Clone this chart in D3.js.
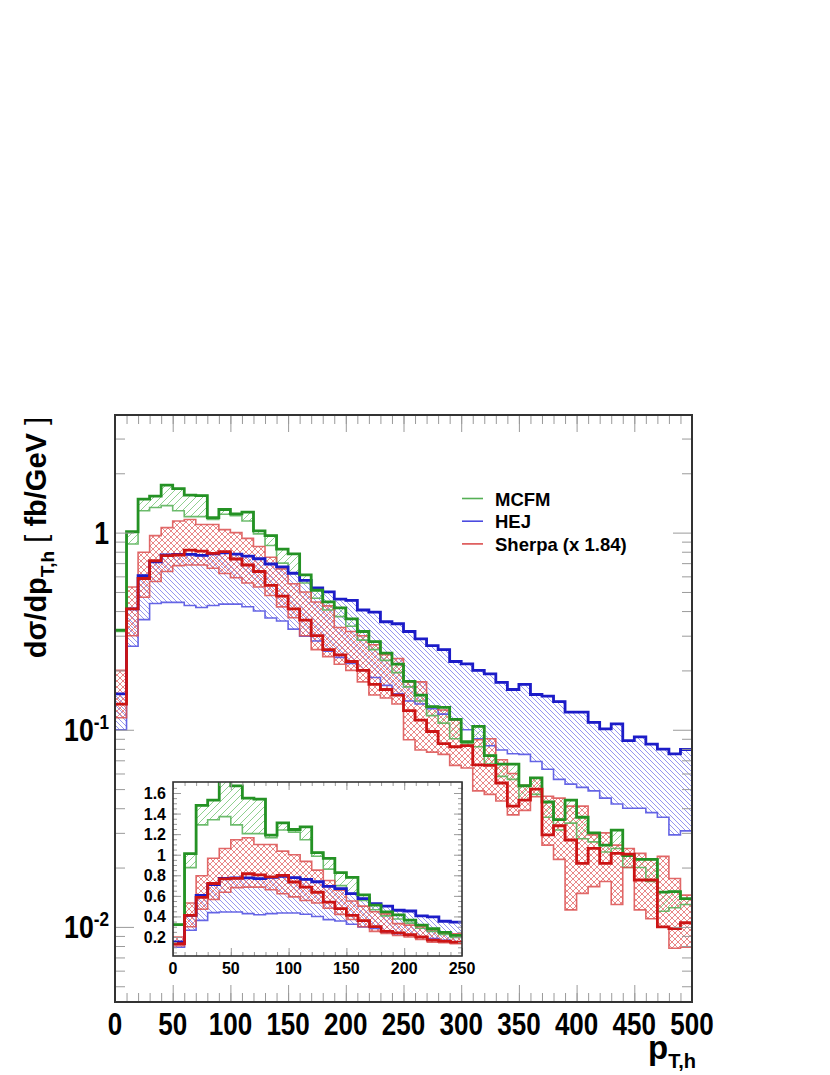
<!DOCTYPE html>
<html>
<head>
<meta charset="utf-8">
<script src="https://cdnjs.cloudflare.com/ajax/libs/d3/7.8.5/d3.min.js"></script>
<style>
  body { margin: 0; background: #fff; }
  svg { display: block; font-family: "Liberation Sans", Arial, Helvetica, sans-serif; font-weight: bold; }
  .tick line { stroke: #9a9a9a; stroke-width: 1; }
  .domain { display: none; }
</style>
</head>
<body>
<div class="svg-container"></div>
<script>
// pT,h bins, 10 GeV wide
const binWidth = 10;
const binEdges = d3.range(0, 500, binWidth);

// MCFM: thick line is the upper edge of the band
const mcfmUp = [0.32, 1.01, 1.48, 1.53, 1.74, 1.67, 1.55, 1.54, 1.19, 1.31, 1.245, 1.27, 1.02, 0.965, 0.825, 0.78, 0.61, 0.51, 0.445, 0.415, 0.365, 0.315, 0.28, 0.245, 0.215,
  0.176, 0.15, 0.131, 0.13, 0.113, 0.087, 0.104, 0.074, 0.067, 0.067, 0.052, 0.057, 0.043, 0.035, 0.044, 0.036, 0.030, 0.026, 0.031, 0.023, 0.022, 0.022, 0.015, 0.0151, 0.0139];
const mcfmLow = [0.315, 0.875, 1.29, 1.34, 1.37, 1.29, 1.205, 1.205, 1.165, 1.24, 1.22, 1.145, 0.985, 0.86, 0.70, 0.62, 0.555, 0.465, 0.405, 0.375, 0.335, 0.285, 0.255, 0.225, 0.195,
  0.165, 0.14, 0.118, 0.108, 0.09, 0.085, 0.082, 0.067, 0.058, 0.056, 0.044, 0.047, 0.036, 0.031, 0.0336, 0.028, 0.027, 0.024, 0.025, 0.020, 0.020, 0.017, 0.012, 0.0125, 0.013];

// HEJ
const hejUp = [0.152, 0.41, 0.605, 0.71, 0.77, 0.775, 0.775, 0.767, 0.78, 0.79, 0.777, 0.76, 0.737, 0.693, 0.67, 0.622, 0.573, 0.524, 0.5, 0.46, 0.453, 0.405, 0.395, 0.353, 0.345,
  0.315, 0.289, 0.267, 0.255, 0.222, 0.216, 0.2, 0.192, 0.174, 0.16, 0.17, 0.151, 0.148, 0.139, 0.123, 0.123, 0.109, 0.101, 0.107, 0.088, 0.092, 0.0846, 0.0798, 0.0755, 0.0794];
const hejLow = [0.1, 0.265, 0.362, 0.437, 0.443, 0.443, 0.427, 0.417, 0.427, 0.434, 0.434, 0.421, 0.40, 0.369, 0.356, 0.324, 0.298, 0.282, 0.25, 0.233, 0.217, 0.2, 0.184, 0.168, 0.152,
  0.14, 0.135, 0.128, 0.12, 0.112, 0.1, 0.09, 0.083, 0.079, 0.0755, 0.075, 0.069, 0.063, 0.056, 0.053, 0.051, 0.049, 0.045, 0.042, 0.040, 0.040, 0.038, 0.036, 0.0293, 0.0307];

// Sherpa (x 1.84): thick central line inside the band
const sherpa = [0.135, 0.41, 0.585, 0.72, 0.765, 0.77, 0.815, 0.805, 0.785, 0.80, 0.735, 0.685, 0.635, 0.54, 0.476, 0.41, 0.36, 0.30, 0.255, 0.24, 0.222, 0.20, 0.17, 0.16, 0.15,
  0.125, 0.112, 0.098, 0.085, 0.082, 0.083, 0.0664, 0.066, 0.0537, 0.041, 0.044, 0.05, 0.0293, 0.0326, 0.0276, 0.021, 0.025, 0.021, 0.0236, 0.0234, 0.0173, 0.0173, 0.0100, 0.0098, 0.0105];
const sherpaUp = [0.2, 0.53, 0.795, 0.965, 1.06, 1.145, 1.165, 1.10, 1.10, 1.035, 1.0, 0.935, 0.85, 0.75, 0.655, 0.55, 0.50, 0.445, 0.425, 0.33, 0.315, 0.30, 0.27, 0.24, 0.23,
  0.175, 0.175, 0.13, 0.126, 0.112, 0.087, 0.089, 0.09, 0.0704, 0.06, 0.0522, 0.057, 0.046, 0.045, 0.041, 0.041, 0.0293, 0.03, 0.026, 0.025, 0.0236, 0.022, 0.0228, 0.0176, 0.0145];
const sherpaLow = [0.115, 0.30, 0.47, 0.565, 0.635, 0.68, 0.685, 0.685, 0.66, 0.62, 0.59, 0.555, 0.53, 0.48, 0.42, 0.37, 0.30, 0.255, 0.235, 0.215, 0.2, 0.175, 0.15, 0.145, 0.135,
  0.089, 0.079, 0.077, 0.075, 0.066, 0.064, 0.049, 0.047, 0.0435, 0.037, 0.039, 0.0457, 0.026, 0.022, 0.0122, 0.0148, 0.016, 0.017, 0.013, 0.020, 0.0122, 0.011, 0.0100, 0.0078, 0.0079];

const xTicks = [0, 50, 100, 150, 200, 250, 300, 350, 400, 450, 500];
const insetXTicks = [0, 50, 100, 150, 200, 250];
const insetYTicks = [0.2, 0.4, 0.6, 0.8, 1, 1.2, 1.4, 1.6];
const yDecades = [{v: 1, base: "1", exp: ""}, {v: 0.1, base: "10", exp: "-1"}, {v: 0.01, base: "10", exp: "-2"}];

let series = [
  {name: "HEJ", thick: hejUp, lo: hejLow, hi: hejUp, color: "#1c1cc8", thin: "#4b4be0", pattern: "hatch-hej"},
  {name: "MCFM", thick: mcfmUp, lo: mcfmLow, hi: mcfmUp, color: "#249224", thin: "#55b055", pattern: "hatch-mcfm"},
  {name: "Sherpa (x 1.84)", thick: sherpa, lo: sherpaLow, hi: sherpaUp, color: "#cc1414", thin: "#dc5050", pattern: "hatch-sherpa"}
];
let legendOrder = [1, 0, 2];

let W = 830, H = 1075;
let frame = {left: 115, right: 692, top: 415, bottom: 1002};
let inset = {left: 173, right: 462, top: 782, bottom: 956};

let svg = d3.select(".svg-container").append("svg")
  .attr("width", W)
  .attr("height", H);

svg.append("rect").attr("width", W).attr("height", H).attr("fill", "#fff");

//Patterns for the bands
let defs = svg.append("defs");
let pMcfm = defs.append("pattern").attr("id", "hatch-mcfm")
  .attr("patternUnits", "userSpaceOnUse").attr("width", 7).attr("height", 7);
pMcfm.append("path").attr("d", "M-1,1 l2,-2 M0,7 l7,-7 M6,8 l2,-2")
  .attr("stroke", "#74c474").attr("stroke-width", 0.8);
let pHej = defs.append("pattern").attr("id", "hatch-hej")
  .attr("patternUnits", "userSpaceOnUse").attr("width", 5).attr("height", 5);
pHej.append("path").attr("d", "M-1,4 l2,2 M0,0 l5,5 M4,-1 l2,2")
  .attr("stroke", "#6a6ae8").attr("stroke-width", 0.7);
let pSherpa = defs.append("pattern").attr("id", "hatch-sherpa")
  .attr("patternUnits", "userSpaceOnUse").attr("width", 6).attr("height", 6);
pSherpa.append("path").attr("d", "M-1,1 l2,-2 M0,6 l6,-6 M5,7 l2,-2 M-1,5 l2,2 M0,0 l6,6 M5,-1 l2,2")
  .attr("stroke", "#e26060").attr("stroke-width", 0.75);

defs.append("clipPath").attr("id", "clip-main").append("rect")
  .attr("x", frame.left).attr("y", frame.top)
  .attr("width", frame.right - frame.left).attr("height", frame.bottom - frame.top);
defs.append("clipPath").attr("id", "clip-inset").append("rect")
  .attr("x", inset.left).attr("y", inset.top)
  .attr("width", inset.right - inset.left).attr("height", inset.bottom - inset.top);

function stepPoints(vals, n) {
  let pts = [];
  for (let i = 0; i < n; i++) {
    pts.push({x: binEdges[i], v: vals[i]});
    pts.push({x: binEdges[i] + binWidth, v: vals[i]});
  }
  return pts;
}

function bandPoints(lo, hi, n) {
  let pts = [];
  for (let i = 0; i < n; i++) {
    let a = Math.min(lo[i], hi[i]), b = Math.max(lo[i], hi[i]);
    pts.push({x: binEdges[i], lo: a, hi: b});
    pts.push({x: binEdges[i] + binWidth, lo: a, hi: b});
  }
  return pts;
}

//Draw bands and lines of all series in one panel
function drawHistos(g, xs, ys, n, thickW, thinW) {
  let line = d3.line().x(d => xs(d.x)).y(d => ys(d.v));
  let area = d3.area().x(d => xs(d.x)).y0(d => ys(d.lo)).y1(d => ys(d.hi));

  series.forEach(s => {
    g.append("path")
      .attr("d", area(bandPoints(s.lo, s.hi, n)))
      .attr("fill", "url(#" + s.pattern + ")");
  });
  series.forEach(s => {
    [s.lo, s.hi].forEach(arr => {
      g.append("path")
        .attr("d", line(stepPoints(arr, n)))
        .attr("fill", "none")
        .attr("stroke", s.thin)
        .attr("stroke-opacity", 0.85)
        .attr("stroke-width", thinW);
    });
  });
  series.forEach(s => {
    g.append("path")
      .attr("d", line(stepPoints(s.thick, n)))
      .attr("fill", "none")
      .attr("stroke", s.color)
      .attr("stroke-width", thickW);
  });
}

//Main scales
let x = d3.scaleLinear().domain([0, 500]).range([frame.left, frame.right]);
let y = d3.scaleLog().domain([0.00416, 3.95]).range([frame.bottom, frame.top]);

let mainG = svg.append("g").attr("clip-path", "url(#clip-main)");
drawHistos(mainG, x, y, binEdges.length, 2.8, 1.6);

//Main x ticks, bottom and top
function addTicks(axisFn, scale, values, size, ty) {
  svg.append("g")
    .attr("transform", "translate(0," + ty + ")")
    .call(axisFn(scale).tickValues(values).tickSize(size).tickFormat(""));
}
let minorX = d3.range(0, 501, 10);
addTicks(d3.axisBottom, x, minorX, -9, frame.bottom);
addTicks(d3.axisBottom, x, xTicks, -17, frame.bottom);
addTicks(d3.axisTop, x, minorX, -9, frame.top);
addTicks(d3.axisTop, x, xTicks, -17, frame.top);

//Log y ticks, left and right
let minorY = [];
[0.001, 0.01, 0.1, 1].forEach(dec => {
  for (let k = 2; k <= 9; k++) {
    let v = k * dec;
    if (v > y.domain()[0] && v < y.domain()[1]) minorY.push(v);
  }
});
let majorY = yDecades.map(d => d.v);
svg.append("g").attr("transform", "translate(" + frame.left + ",0)")
  .call(d3.axisLeft(y).tickValues(minorY).tickSize(-10).tickFormat(""));
svg.append("g").attr("transform", "translate(" + frame.left + ",0)")
  .call(d3.axisLeft(y).tickValues(majorY).tickSize(-19).tickFormat(""));
svg.append("g").attr("transform", "translate(" + frame.right + ",0)")
  .call(d3.axisRight(y).tickValues(minorY).tickSize(-10).tickFormat(""));
svg.append("g").attr("transform", "translate(" + frame.right + ",0)")
  .call(d3.axisRight(y).tickValues(majorY).tickSize(-19).tickFormat(""));

//Main tick labels (narrow bold digits as in the original)
svg.append("g").selectAll("text")
  .data(xTicks)
  .enter().append("text")
  .attr("transform", d => "translate(" + x(d) + ",1035) scale(0.84,1)")
  .attr("text-anchor", "middle")
  .style("font-size", "31px")
  .text(d => d);

let yLab = svg.append("g").selectAll("text")
  .data(yDecades)
  .enter().append("text")
  .attr("transform", d => "translate(109," + (y(d.v) + 11) + ") scale(0.86,1)")
  .attr("text-anchor", "end")
  .style("font-size", "31px");
yLab.append("tspan").text(d => d.base);
yLab.append("tspan")
  .attr("dy", -12)
  .style("font-size", "20px")
  .text(d => d.exp);

//Axis titles
let yTitle = svg.append("text")
  .attr("transform", "translate(46,417) rotate(-90)")
  .attr("text-anchor", "end")
  .style("font-size", "29px");
yTitle.append("tspan").text("dσ/dp");
yTitle.append("tspan").attr("dy", 8).style("font-size", "19px").text("T,h");
yTitle.append("tspan").attr("dy", -8).style("font-weight", "normal").text("  [ ");
yTitle.append("tspan").text("fb/GeV");
yTitle.append("tspan").style("font-weight", "normal").text(" ]");

let xTitle = svg.append("text")
  .attr("x", 648)
  .attr("y", 1059)
  .style("font-size", "33px");
xTitle.append("tspan").text("p");
xTitle.append("tspan").attr("dy", 9).style("font-size", "20px").text("T,h");

//Legend
let legend = svg.selectAll(".legend")
  .data(legendOrder.map(i => series[i]))
  .enter().append("g")
  .attr("class", "legend")
  .attr("transform", (d, i) => "translate(0," + (i * 22.7) + ")");
legend.append("line")
  .attr("x1", 462).attr("x2", 483)
  .attr("y1", 498.5).attr("y2", 498.5)
  .attr("stroke", d => d.thin)
  .attr("stroke-width", 1.6);
legend.append("text")
  .attr("x", 495)
  .attr("y", 505.5)
  .style("font-size", "18.5px")
  .text(d => d.name);

//Main frame
svg.append("rect")
  .attr("x", frame.left).attr("y", frame.top)
  .attr("width", frame.right - frame.left).attr("height", frame.bottom - frame.top)
  .attr("fill", "none").attr("stroke", "#333").attr("stroke-width", 2);

//Inset
let xi = d3.scaleLinear().domain([0, 250]).range([inset.left, inset.right]);
let yi = d3.scaleLinear().domain([0.0153, 1.707]).range([inset.bottom, inset.top]);

svg.append("rect")
  .attr("x", inset.left).attr("y", inset.top)
  .attr("width", inset.right - inset.left).attr("height", inset.bottom - inset.top)
  .attr("fill", "#fff");

let insetG = svg.append("g").attr("clip-path", "url(#clip-inset)");
drawHistos(insetG, xi, yi, 25, 2.8, 1.6);

let minorXi = d3.range(0, 251, 10);
addTicks(d3.axisBottom, xi, minorXi, -4, inset.bottom);
addTicks(d3.axisBottom, xi, insetXTicks, -8, inset.bottom);
addTicks(d3.axisTop, xi, minorXi, -4, inset.top);
addTicks(d3.axisTop, xi, insetXTicks, -8, inset.top);

let minorYi = d3.range(0.05, 1.7, 0.05);
svg.append("g").attr("transform", "translate(" + inset.left + ",0)")
  .call(d3.axisLeft(yi).tickValues(minorYi).tickSize(-4).tickFormat(""));
svg.append("g").attr("transform", "translate(" + inset.left + ",0)")
  .call(d3.axisLeft(yi).tickValues(insetYTicks).tickSize(-8).tickFormat(""));
svg.append("g").attr("transform", "translate(" + inset.right + ",0)")
  .call(d3.axisRight(yi).tickValues(minorYi).tickSize(-4).tickFormat(""));
svg.append("g").attr("transform", "translate(" + inset.right + ",0)")
  .call(d3.axisRight(yi).tickValues(insetYTicks).tickSize(-8).tickFormat(""));

svg.append("g").selectAll("text")
  .data(insetXTicks)
  .enter().append("text")
  .attr("x", d => xi(d))
  .attr("y", 974)
  .attr("text-anchor", "middle")
  .style("font-size", "16px")
  .text(d => d);

svg.append("g").selectAll("text")
  .data(insetYTicks)
  .enter().append("text")
  .attr("x", 166)
  .attr("y", d => yi(d) + 6)
  .attr("text-anchor", "end")
  .style("font-size", "16px")
  .text(d => d);

svg.append("rect")
  .attr("x", inset.left).attr("y", inset.top)
  .attr("width", inset.right - inset.left).attr("height", inset.bottom - inset.top)
  .attr("fill", "none").attr("stroke", "#333").attr("stroke-width", 1.6);
</script>
</body>
</html>
